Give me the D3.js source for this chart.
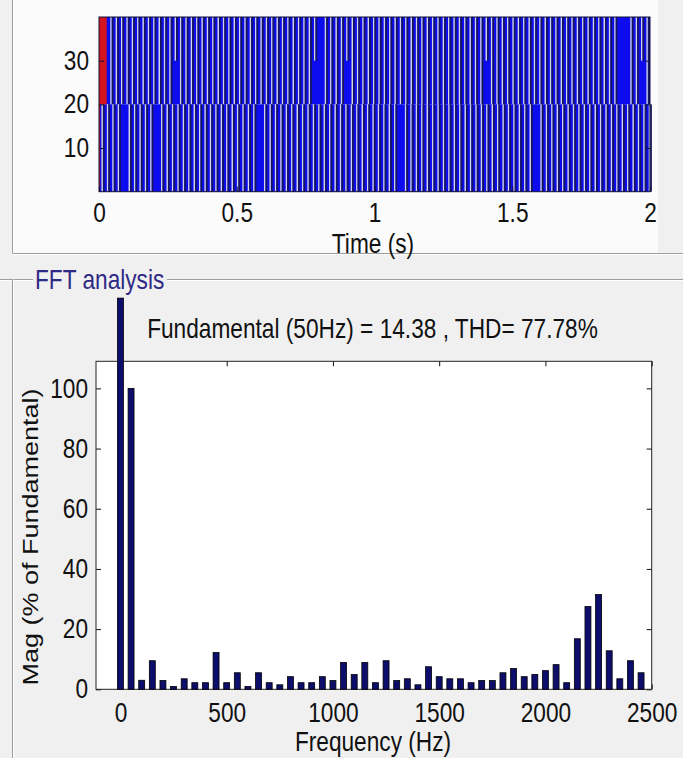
<!DOCTYPE html>
<html>
<head>
<meta charset="utf-8">
<script src="https://cdn.jsdelivr.net/npm/d3@7"></script>
<style>
  html, body { margin: 0; padding: 0; background: #f0f0f0; }
  svg { display: block; font-family: "Liberation Sans", Arial, sans-serif; }
</style>
</head>
<body>
<svg id="chart" width="683" height="758"></svg>
<script>
// ---------- switching signal (top scope) ----------
const timeTicks = [0, 0.5, 1, 1.5, 2];
const levelTicks = [10, 20, 30];
const upperBand = [20, 40];
const lowerBand = [0, 20];
const windowUpperEnd = 0.028;   // highlighted analysis cycle (red)
const windowLowerEnd = 0.004;
const upperNotch = { start: 0.0436, period: 0.01946 };
const lowerNotch = { start: 0.0116, period: 0.019667 };
const upperMissing = [0.8022, 1.8937, 1.9133];
const upperShort = [0.2857, 0.7840, 0.9013, 1.3986, 1.9746];
const lowerMissing = [0.0944, 0.2142, 0.5771, 1.0926, 1.5917];

// ---------- FFT spectrum ----------
const harmonicFreqs = [0, 50, 100, 150, 200, 250, 300, 350, 400, 450,
  500, 550, 600, 650, 700, 750, 800, 850, 900, 950,
  1000, 1050, 1100, 1150, 1200, 1250, 1300, 1350, 1400, 1450,
  1500, 1550, 1600, 1650, 1700, 1750, 1800, 1850, 1900, 1950,
  2000, 2050, 2100, 2150, 2200, 2250, 2300, 2350, 2400, 2450];
const harmonicMags = [130, 100, 3, 9.5, 2.9, 0.9, 3.5, 2.2, 2.2, 12.2,
  2.2, 5.5, 0.9, 5.5, 2.2, 1.5, 4.2, 2.2, 2.2, 4.2,
  2.9, 8.9, 4.9, 8.9, 2.2, 9.5, 2.9, 3.5, 1.5, 7.5,
  4.2, 3.5, 3.5, 2.2, 2.9, 2.9, 5.5, 6.9, 4.2, 4.9,
  6.2, 8.2, 2.2, 16.8, 27.5, 31.5, 12.8, 3.5, 9.5, 5.5];
const freqTicks = [0, 500, 1000, 1500, 2000, 2500];
const magTicks = [0, 20, 40, 60, 80, 100];
const fundamentalHz = 50;
const fundamentalMag = 14.38;
const thdPercent = 77.78;

const FONT = 27;
const SQUEEZE = 0.84;   // narrow glyph rendering of the GUI font

const svg = d3.select("#chart");

// Horizontal text with narrow glyphs
function narrowText(g, x, y, str, anchor, fill) {
  return g.append("text")
    .attr("transform", `translate(${x},${y}) scale(${SQUEEZE},1)`)
    .attr("text-anchor", anchor || "start")
    .attr("font-size", FONT)
    .attr("fill", fill || "#111")
    .text(str);
}
function squeezeAxisText(axisG) {
  axisG.selectAll("text").each(function () {
    const t = d3.select(this);
    const x = +(t.attr("x") || 0);
    t.attr("x", x / SQUEEZE).attr("transform", `scale(${SQUEEZE},1)`);
  });
  axisG.attr("font-size", FONT).attr("font-family", null);
  axisG.selectAll("text").attr("fill", "#111");
}

// ---------- panel backgrounds and frames ----------
svg.append("rect").attr("x", 0).attr("y", 0).attr("width", 683).attr("height", 758).attr("fill", "#f0f0f0");
svg.append("rect").attr("x", 13).attr("y", 0).attr("width", 645).attr("height", 253).attr("fill", "#fbfbfb");

function etched(x1, y1, x2, y2) {
  svg.append("line").attr("x1", x1).attr("y1", y1).attr("x2", x2).attr("y2", y2)
    .attr("stroke", "#9c9c9c").attr("stroke-width", 1);
  const dx = x1 === x2 ? 1 : 0, dy = y1 === y2 ? 1 : 0;
  svg.append("line").attr("x1", x1 + dx).attr("y1", y1 + dy).attr("x2", x2 + dx).attr("y2", y2 + dy)
    .attr("stroke", "#ffffff").attr("stroke-width", 1);
}
etched(12.5, 0, 12.5, 253);
etched(12.5, 253.5, 683, 253.5);
etched(0, 279.5, 33, 279.5);
etched(167, 279.5, 683, 279.5);
etched(12.5, 279.5, 12.5, 758);

// ---------- top scope ----------
const xT = d3.scaleLinear().domain([0, 2]).range([99, 650]);
const yT = d3.scaleLinear().domain([0, 40]).range([191.7, 17]);
const scope = svg.append("g");

const BLUE = "#0c0cee", DARK = "#16165a", LIGHT = "#d2d2ea";

function notchTimes(spec, missing) {
  const out = [];
  for (let t = spec.start; t < 2; t += spec.period) {
    if (!missing.some(m => Math.abs(m - t) < spec.period / 2)) out.push(t);
  }
  return out;
}

function drawBand(band, spec, missing, shorts) {
  const top = yT(band[1]), bot = yT(band[0]);
  scope.append("rect").attr("x", xT(0)).attr("y", top)
    .attr("width", xT(2) - xT(0)).attr("height", bot - top).attr("fill", BLUE);
  const times = notchTimes(spec, missing);
  const g = scope.append("g");
  times.forEach(t => {
    const isShort = shorts.some(s => Math.abs(s - t) < spec.period / 2);
    const yBottom = isShort ? yT(30) : bot;
    g.append("rect").attr("x", xT(t) - 0.75).attr("y", top)
      .attr("width", 1.5).attr("height", yBottom - top).attr("fill", LIGHT);
    g.append("rect").attr("x", xT(t) + 0.75).attr("y", top)
      .attr("width", 1.7).attr("height", yBottom - top).attr("fill", DARK);
  });
}
drawBand(upperBand, upperNotch, upperMissing, upperShort);
drawBand(lowerBand, lowerNotch, lowerMissing, []);

// analysis window in red
scope.append("rect").attr("x", xT(0)).attr("y", yT(upperBand[1]))
  .attr("width", xT(windowUpperEnd) - xT(0)).attr("height", yT(upperBand[0]) - yT(upperBand[1]))
  .attr("fill", "#d4141e");
scope.append("rect").attr("x", xT(0)).attr("y", yT(lowerBand[1]))
  .attr("width", xT(windowLowerEnd) - xT(0)).attr("height", yT(lowerBand[0]) - yT(lowerBand[1]))
  .attr("fill", "#d4141e");

// scope box and axes
scope.append("rect").attr("x", xT(0)).attr("y", yT(40)).attr("width", xT(2) - xT(0))
  .attr("height", yT(0) - yT(40)).attr("fill", "none").attr("stroke", "#10103a").attr("stroke-width", 1);

const axTL = scope.append("g").attr("transform", `translate(${xT(0)},0)`)
  .call(d3.axisLeft(yT).tickValues(levelTicks).tickSize(-5).tickPadding(10).tickFormat(d3.format("d")));
const axTR = scope.append("g").attr("transform", `translate(${xT(2)},0)`)
  .call(d3.axisRight(yT).tickValues(levelTicks).tickSize(-5).tickFormat(""));
const axTB = scope.append("g").attr("transform", `translate(0,${yT(0)})`)
  .call(d3.axisBottom(xT).tickValues(timeTicks).tickSize(-5).tickPadding(11).tickFormat(d => String(d)));
[axTL, axTR, axTB].forEach(a => {
  a.select(".domain").remove();
  a.selectAll("line").attr("stroke", "#10103a");
});
squeezeAxisText(axTL);
squeezeAxisText(axTB);

narrowText(svg, 373, 252.5, "Time (s)", "middle");

// ---------- FFT panel ----------
narrowText(svg, 35, 289, "FFT analysis", "start", "#2f2a86");

const xF = d3.scaleLinear().domain([-115, 2500]).range([96, 651.7]);
const yF = d3.scaleLinear().domain([0, 109]).range([689.3, 361.3]);
const fft = svg.append("g");

fft.append("rect").attr("x", xF(-115)).attr("y", yF(109)).attr("width", xF(2500) - xF(-115))
  .attr("height", yF(0) - yF(109)).attr("fill", "#ffffff");

const axFL = fft.append("g").attr("transform", `translate(${xF(-115)},0)`)
  .call(d3.axisLeft(yF).tickValues(magTicks).tickSize(-5).tickPadding(8).tickFormat(d3.format("d")));
const axFR = fft.append("g").attr("transform", `translate(${xF(2500)},0)`)
  .call(d3.axisRight(yF).tickValues(magTicks).tickSize(-5).tickFormat(""));
const axFB = fft.append("g").attr("transform", `translate(0,${yF(0)})`)
  .call(d3.axisBottom(xF).tickValues(freqTicks).tickSize(-5).tickPadding(14).tickFormat(d3.format("d")));
const axFT = fft.append("g").attr("transform", `translate(0,${yF(109)})`)
  .call(d3.axisTop(xF).tickValues(freqTicks).tickSize(-5).tickFormat(""));
[axFL, axFR, axFB, axFT].forEach(a => {
  a.select(".domain").remove();
  a.selectAll("line").attr("stroke", "#111");
});
squeezeAxisText(axFL);
squeezeAxisText(axFB);

fft.append("rect").attr("x", xF(-115)).attr("y", yF(109)).attr("width", xF(2500) - xF(-115))
  .attr("height", yF(0) - yF(109)).attr("fill", "none").attr("stroke", "#222").attr("stroke-width", 1);

const barW = xF(28) - xF(0);
fft.append("g").selectAll("rect")
  .data(harmonicFreqs.map((f, i) => ({ f, m: harmonicMags[i] })))
  .join("rect")
  .attr("x", d => xF(d.f) - barW / 2)
  .attr("y", d => yF(d.m))
  .attr("width", barW)
  .attr("height", d => yF(0) - yF(d.m))
  .attr("fill", "#0d0d6b")
  .attr("stroke", "#000")
  .attr("stroke-width", 0.8);

narrowText(svg, 372.5, 338,
  `Fundamental (${fundamentalHz}Hz) = ${fundamentalMag} , THD= ${thdPercent}%`, "middle");

narrowText(svg, 373, 750.5, "Frequency (Hz)", "middle");

svg.append("text")
  .attr("transform", `translate(38,537) rotate(-90) scale(1,${SQUEEZE})`)
  .attr("text-anchor", "middle")
  .attr("font-size", FONT)
  .attr("fill", "#111")
  .text("Mag (% of Fundamental)");
</script>
</body>
</html>
